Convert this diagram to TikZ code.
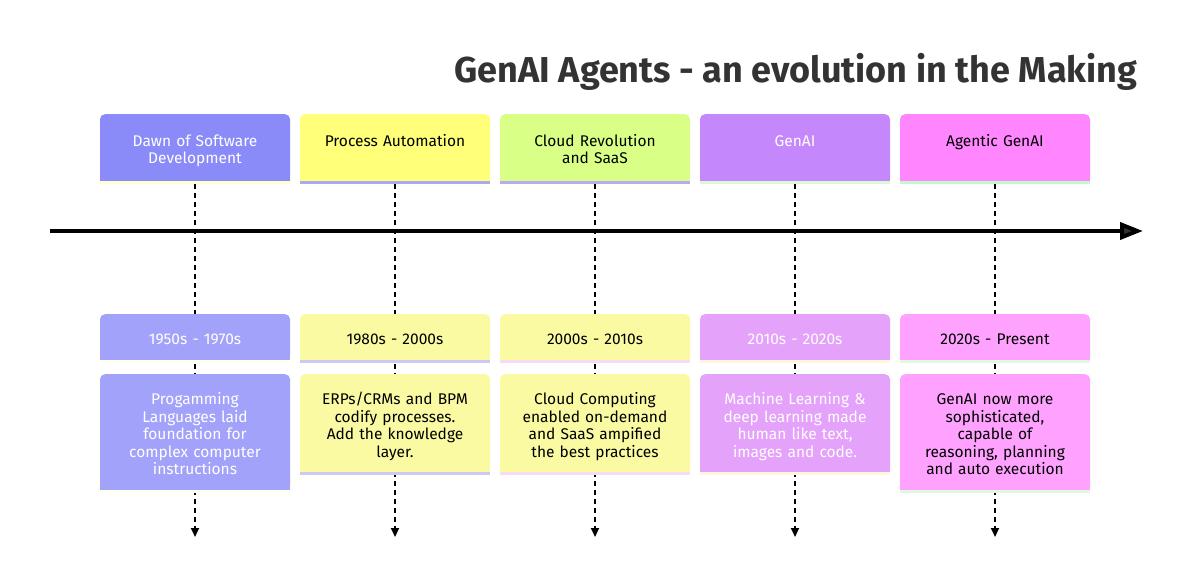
\documentclass[tikz,border=0pt]{standalone}
\usepackage{fontspec}
\setmainfont{Fira Sans}
\usetikzlibrary{arrows.meta,positioning,backgrounds}

\definecolor{secA}{HTML}{8A8AF8}
\definecolor{secB}{HTML}{FFFF7A}
\definecolor{secC}{HTML}{DAFF86}
\definecolor{secD}{HTML}{C487FC}
\definecolor{secE}{HTML}{FF86FF}
\definecolor{evA}{HTML}{A2A2FA}
\definecolor{evB}{HTML}{FAFAA2}
\definecolor{evC}{HTML}{FAFAA2}
\definecolor{evD}{HTML}{E4A2FA}
\definecolor{evE}{HTML}{FFA2FF}
\definecolor{lnA}{HTML}{FFFFD2}
\definecolor{lnB}{HTML}{AAAAF2}
\definecolor{lnC}{HTML}{BAAAF2}
\definecolor{lnD}{HTML}{DAF8D2}
\definecolor{lnE}{HTML}{C2F8CA}
\definecolor{pA}{HTML}{FFFFEE}
\definecolor{pB}{HTML}{CACAF2}
\definecolor{pC}{HTML}{F8DAF2}
\definecolor{pD}{HTML}{FFF6E0}
\definecolor{pE}{HTML}{E2F8E2}
\definecolor{ink}{HTML}{333333}

\newcommand{\bx}[1]{\rule{0pt}{20.25pt}#1\strut}

\begin{document}
\begin{tikzpicture}[x=1pt,y=-1pt,
		box/.style={anchor=north, minimum width=190pt, text width=180pt, align=center,
			inner xsep=5pt, inner ysep=10.25pt, rounded corners=5pt,
			font=\fontsize{15.5}{17.5}\selectfont},
		sec/.style={box, minimum height=67pt},
		dline/.style={dashed, dash pattern=on 5pt off 4pt, line width=2pt, black,
			-{Triangle[length=9pt,width=8pt]}},
		strip/.style={line width=3pt}]
	\useasboundingbox (0,0) rectangle (1197,586);

	% title
	\node (ttl) at (796,82) [anchor=base, font=\fontsize{36}{42}\selectfont\bfseries, text=ink]
		{GenAI Agents - an evolution in the Making};

	% time axis
	\coordinate (tstart) at (50,231);
	\coordinate (tend) at (1143,231);
	\draw [line width=4pt, black, -{Triangle[length=23pt,width=17pt,fill=ink]}] (tstart) -- (tend);

	% sections
	\path	(195,114) node (s1) [sec, fill=secA, text=white] {\bx{Dawn of Software\\Development}}
		(395,114) node (s2) [sec, fill=secB, text=black] {\bx{Process Automation\\\mbox{}}}
		(595,114) node (s3) [sec, fill=secC, text=black] {\bx{Cloud Revolution\\and SaaS}}
		(795,114) node (s4) [sec, fill=secD, text=white] {\bx{GenAI\\\mbox{}}}
		(995,114) node (s5) [sec, fill=secE, text=black] {\bx{Agentic GenAI\\\mbox{}}};

	% periods
	\path	(195,314) node (p1) [box, fill=evA, text=white] {\bx{1950s - 1970s}}
		(395,314) node (p2) [box, fill=evB, text=black] {\bx{1980s - 2000s}}
		(595,314) node (p3) [box, fill=evC, text=black] {\bx{2000s - 2010s}}
		(795,314) node (p4) [box, fill=evD, text=white] {\bx{2010s - 2020s}}
		(995,314) node (p5) [box, fill=evE, text=black] {\bx{2020s - Present}};

	% events
	\path	(195,374) node (e1) [box, fill=evA, text=white]
			{\bx{Progamming\\Languages laid\\foundation for\\complex computer\\instructions}}
		(395,374) node (e2) [box, fill=evB, text=black]
			{\bx{ERPs/CRMs and BPM\\codify processes.\\Add the knowledge\\layer.}}
		(595,374) node (e3) [box, fill=evC, text=black]
			{\bx{Cloud Computing\\enabled on-demand\\and SaaS ampified\\the best practices}}
		(795,374) node (e4) [box, fill=evD, text=white]
			{\bx{Machine Learning \&\\deep learning made\\human like text,\\images and code.}}
		(995,374) node (e5) [box, fill=evE, text=black]
			{\bx{GenAI now more\\sophisticated,\\capable of\\reasoning, planning\\and auto execution}};

	% square bottoms and under-strips
	\fill [secA] ([yshift=6pt]s1.south west) rectangle (s1.south east);
	\fill [secB] ([yshift=6pt]s2.south west) rectangle (s2.south east);
	\fill [secC] ([yshift=6pt]s3.south west) rectangle (s3.south east);
	\fill [secD] ([yshift=6pt]s4.south west) rectangle (s4.south east);
	\fill [secE] ([yshift=6pt]s5.south west) rectangle (s5.south east);
	\fill [evA] ([yshift=6pt]p1.south west) rectangle (p1.south east);
	\fill [evB] ([yshift=6pt]p2.south west) rectangle (p2.south east);
	\fill [evC] ([yshift=6pt]p3.south west) rectangle (p3.south east);
	\fill [evD] ([yshift=6pt]p4.south west) rectangle (p4.south east);
	\fill [evE] ([yshift=6pt]p5.south west) rectangle (p5.south east);
	\fill [evA] ([yshift=6pt]e1.south west) rectangle (e1.south east);
	\fill [evB] ([yshift=6pt]e2.south west) rectangle (e2.south east);
	\fill [evC] ([yshift=6pt]e3.south west) rectangle (e3.south east);
	\fill [evD] ([yshift=6pt]e4.south west) rectangle (e4.south east);
	\fill [evE] ([yshift=6pt]e5.south west) rectangle (e5.south east);
	\draw [strip, lnA] ([yshift=-1pt]s1.south west) -- ([yshift=-1pt]s1.south east);
	\draw [strip, lnB] ([yshift=-1pt]s2.south west) -- ([yshift=-1pt]s2.south east);
	\draw [strip, lnC] ([yshift=-1pt]s3.south west) -- ([yshift=-1pt]s3.south east);
	\draw [strip, lnD] ([yshift=-1pt]s4.south west) -- ([yshift=-1pt]s4.south east);
	\draw [strip, lnE] ([yshift=-1pt]s5.south west) -- ([yshift=-1pt]s5.south east);
	\draw [strip, pA] ([yshift=-1pt]p1.south west) -- ([yshift=-1pt]p1.south east);
	\draw [strip, pB] ([yshift=-1pt]p2.south west) -- ([yshift=-1pt]p2.south east);
	\draw [strip, pC] ([yshift=-1pt]p3.south west) -- ([yshift=-1pt]p3.south east);
	\draw [strip, pD] ([yshift=-1pt]p4.south west) -- ([yshift=-1pt]p4.south east);
	\draw [strip, pE] ([yshift=-1pt]p5.south west) -- ([yshift=-1pt]p5.south east);
	\draw [strip, pA] ([yshift=-1pt]e1.south west) -- ([yshift=-1pt]e1.south east);
	\draw [strip, pB] ([yshift=-1pt]e2.south west) -- ([yshift=-1pt]e2.south east);
	\draw [strip, pC] ([yshift=-1pt]e3.south west) -- ([yshift=-1pt]e3.south east);
	\draw [strip, pD] ([yshift=-1pt]e4.south west) -- ([yshift=-1pt]e4.south east);
	\draw [strip, pE] ([yshift=-1pt]e5.south west) -- ([yshift=-1pt]e5.south east);

	% dashed drop lines, behind the boxes
	\coordinate (d1) at (195,537);
	\coordinate (d2) at (395,537);
	\coordinate (d3) at (595,537);
	\coordinate (d4) at (795,537);
	\coordinate (d5) at (995,537);
	\begin{scope}[on background layer]
		\draw [dline] ([yshift=-3pt]s1.south) -- (d1);
		\draw [dline] ([yshift=-3pt]s2.south) -- (d2);
		\draw [dline] ([yshift=-3pt]s3.south) -- (d3);
		\draw [dline] ([yshift=-3pt]s4.south) -- (d4);
		\draw [dline] ([yshift=-3pt]s5.south) -- (d5);
	\end{scope}
\end{tikzpicture}
\end{document}
